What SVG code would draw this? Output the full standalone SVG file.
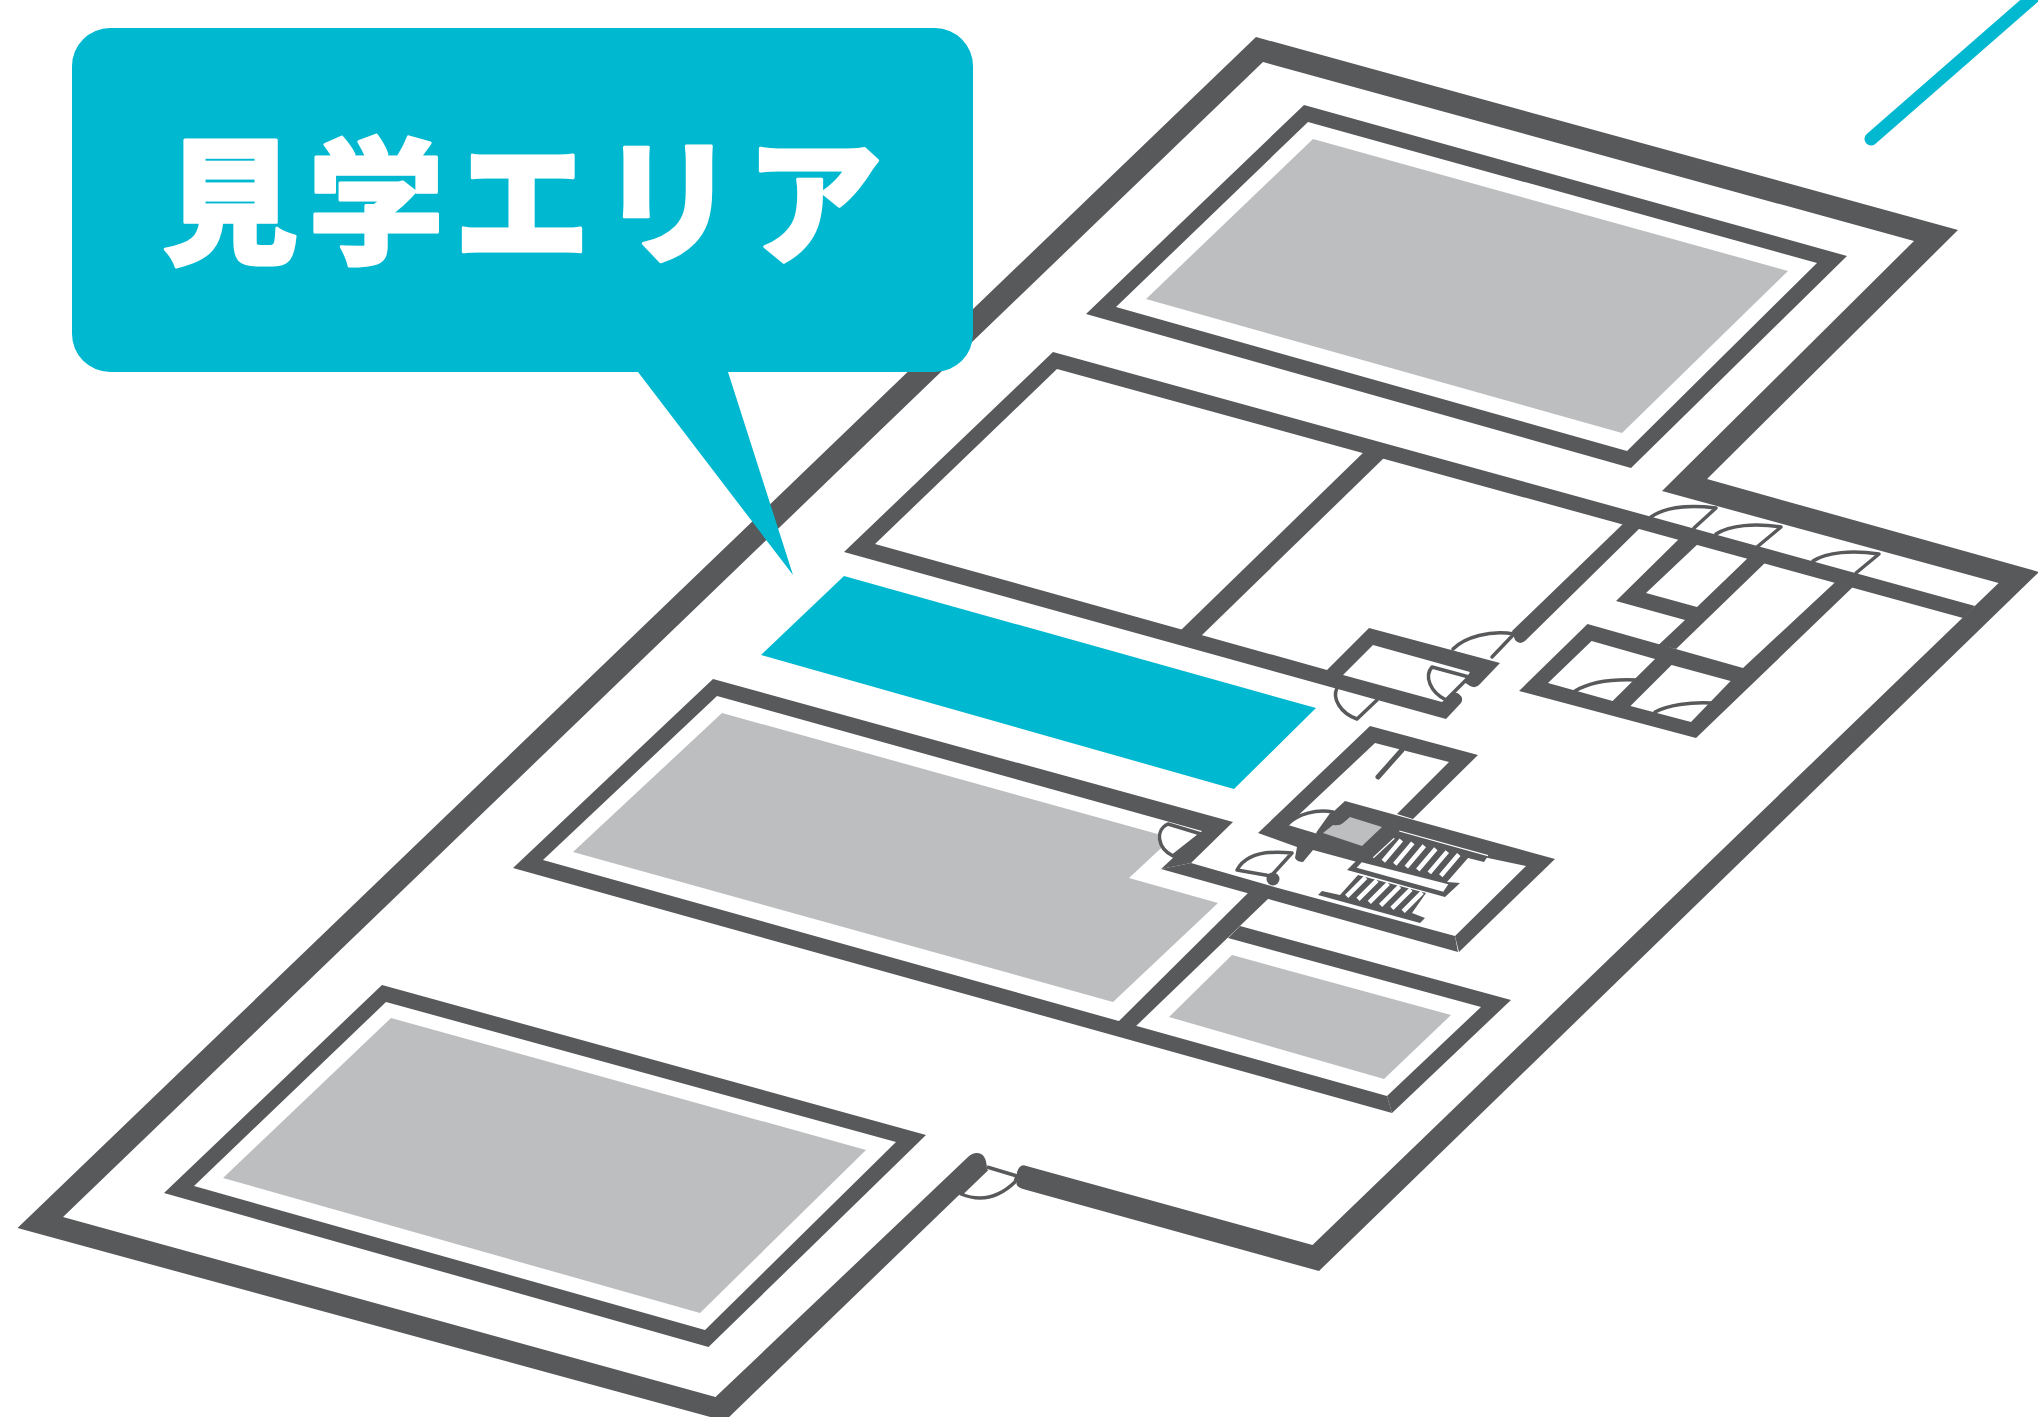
<svg xmlns="http://www.w3.org/2000/svg" width="2038" height="1417" viewBox="0 0 2038 1417">
<style>
.w{fill:#58595b}
.g{fill:#bcbec0}
.t{fill:#00b8d0}
.d{fill:none;stroke:#58595b;stroke-width:3.5;stroke-linejoin:round;stroke-linecap:round}
.f{fill:#fff;stroke:#58595b;stroke-width:3.5;stroke-linejoin:round}
.s{fill:none;stroke:#fff}
.label{font-family:"Noto Sans CJK JP","Noto Sans",sans-serif;font-weight:900;font-size:136px;letter-spacing:10px;fill:#fff;stroke:#fff;stroke-width:3;stroke-linejoin:round}
</style>
<rect width="2038" height="1417" fill="#fff"/>
<g id="building-shell">
<path class="w" d="M1023,1189 L1319,1271 L2039,572 L1707,479 L1958,230 L1256,37 L17.5,1228 L725,1421 L987,1168 Q986,1153 977,1153 Q972,1153 968,1157 L715.5,1397 L63,1217 L1263,62 L1914,241 L1662,491 L1998.6,583 L1312.5,1245 L1026.5,1166 Q1020,1163 1017,1172 L1016.5,1184 Q1017,1187 1023,1189 Z"/>
<path class="f" d="M987,1167 L1017,1176 L1015,1182 Q990,1206 961,1194 L987,1169"/>
</g>
<g id="room-north">
<path class="w" fill-rule="evenodd" d="M1304,105 L1847,256 L1631,468 L1086,314 Z M1308,122 L1116,307 L1627,451 L1817,263 Z"/>
<path class="g" d="M1313,139 L1788,271 L1622,433 L1146,299 Z"/>
</g>
<g id="hall-walls">
<path class="w" d="M1053,352 L1975,606 L1963,618 L1057,369 L875,544 L1327,670 L1369,628 L1500,663 L1480,684 Q1476,689 1470,686 L1464,682 L1470,672 L1373,645 L1343,675 L1442,702 L1450,695 Q1455,691 1459,694 Q1464,698 1461,703 L1446,719 L844,552 Z"/>
<path class="w" d="M1367,449 L1387,455 L1200,637 L1180,631 Z"/>
<path class="w" d="M1626,521 L1642,526 L1526,640 Q1520,646 1515,640 L1512,631 Z"/>
<path class="d" d="M1453,649 C1465,637 1490,630 1514,634 L1492,657"/>
<path class="f" d="M1432,667 L1469,677 L1446,700 C1430,692 1424,676 1432,667 Z"/>
<path class="d" d="M1377,700 L1357,719 C1340,713 1332,698 1337,688"/>
</g>
<g id="teal-area"><path class="t" d="M844,576 L1316,708 L1234,789 L761,655 Z"/></g>
<g id="east-rooms">
<path class="w" d="M1682,536 L1700,542 L1646,593 L1697,607 L1751,555 L1768,560 L1676,649 L1658.5,645 L1685,620 L1616,601 Z"/>
<path class="w" fill-rule="evenodd" d="M1587.5,624 L1743,668 L1838.6,579 L1856,584 L1696,738 L1519,691 Z M1591.6,641 L1548,683 L1612.6,701 L1655,659 Z M1671.6,665 L1630.4,706 L1691,722 L1730.6,681 Z"/>
<path class="d" d="M1651,517 C1665,507 1690,505 1716,508 L1694,528"/>
<path class="d" d="M1716,534 C1730,525 1755,523 1781,527 L1757,547"/>
<path class="d" d="M1813,561 C1827,552 1852,550 1879,554 L1856,573"/>
<path class="d" d="M1575,691 C1590,682 1612,679 1636,680"/>
<path class="d" d="M1655,712 C1668,705 1690,702 1711,703"/>
</g>
<g id="room-central">
<path class="w" fill-rule="evenodd" d="M713,679 L1233,822 L1191,863 L1161,869 L1202,831 L717,696 L543,860 L1387,1096 L1392,1113 L513,868 Z"/>
<path class="g" d="M722,713 L1172,838 L1129,878 L1218,903 L1113,1002 L573,852 Z"/>
<path class="w" d="M1161,869 L1191,863 L1278,888 L1455,936 L1458,952 Z"/>
<path class="w" d="M1250,891 L1270,897 L1134,1028 L1117,1023 Z"/>
<path class="f" d="M1168,824 L1201,834 L1173,856 C1157,848 1155,830 1168,824 Z"/>
</g>
<g id="room-south">
<path class="w" d="M1240,926 L1511,1000 L1392,1113 L1387,1096 L1481,1007 L1228,938 Z"/>
<path class="g" d="M1232,955 L1451,1015 L1384,1079 L1169,1017 Z"/>
</g>
<g id="core">
<path class="w" d="M1370,726 L1478,755 L1413,819 L1397,814 L1449,762 L1375,743 L1288,825 L1318,834 L1333,812 L1345,801 L1555,859 L1459,952 L1455,936 L1526,866 L1488,858 L1399,833 L1372,866 L1313,850 L1303,862 Q1297,862 1295,858 L1297,847 L1258,833 Z"/>
<path class="g" d="M1350,817 L1382,827 L1362,846 L1323,833 L1333,825 Q1340,826 1343,823 Z"/>
<path class="d" d="M1288,824 C1298,814 1316,809 1333,812 L1318,833"/>
<path d="M1402,750 L1378,777" fill="none" stroke="#58595b" stroke-width="5" stroke-linecap="round"/>
<path class="w" d="M1357,860 L1373,858 L1383,828 L1488,856 L1484,862 L1468,858 L1447,882 L1460,883 L1445,897 L1347,870 Z"/>
<path class="w" d="M1358,875 L1426,893 L1412,913 L1425,918 L1420,923 L1318,895 L1322,891 L1340,895 Z"/>
<path d="M1361.7,862.3 L1448.3,884.3 L1443.3,891.7 L1356.7,867.7 Z" fill="#fff"/>
<path class="s" stroke-width="1.2" d="M1399.3,831 L1488,855.7 M1373.3,857.7 L1394.3,838.3"/>
<path class="s" stroke-width="4.5" d="M1383.3,861.3 L1401.3,840 M1394.8,864.2 L1412.8,842.9 M1406.3,867.1 L1424.3,845.8 M1417.8,870 L1435.8,848.7 M1429.3,872.9 L1447.3,851.6 M1440.8,875.8 L1458.8,854.5"/>
<path class="s" stroke-width="4.5" d="M1346.7,896.3 L1365.7,877.3 M1358,899.3 L1377,880.3 M1369.3,902.3 L1388.3,883.3 M1380.6,905.3 L1399.6,886.3 M1391.9,908.3 L1410.9,889.3 M1403.2,911.3 L1422.2,892.3"/>
<path class="f" d="M1237,870 C1245,855 1265,850 1292,853 L1271,876 Z"/>
<circle cx="1273" cy="879" r="6.5" fill="#58595b"/>
</g>
<g id="room-west">
<path class="w" fill-rule="evenodd" d="M382,985 L926,1135 L708.5,1347 L164,1193 Z M386,1002 L194,1186 L705,1330 L896,1142 Z"/>
<path class="g" d="M391,1018 L866,1150 L700,1313 L223,1178 Z"/>
</g>
<path id="teal-line" d="M1871,139 L2045,-13" fill="none" stroke="#00b8d0" stroke-width="13" stroke-linecap="round"/>
<g id="callout">
<path class="t" d="M110,28 H935 A38,38 0 0 1 973,66 V334 A38,38 0 0 1 935,372 H728 L793,575 L638,372 H110 A38,38 0 0 1 72,334 V66 A38,38 0 0 1 110,28 Z"/>
<text class="label" x="162" y="253">見学エリア</text>
</g>
</svg>
